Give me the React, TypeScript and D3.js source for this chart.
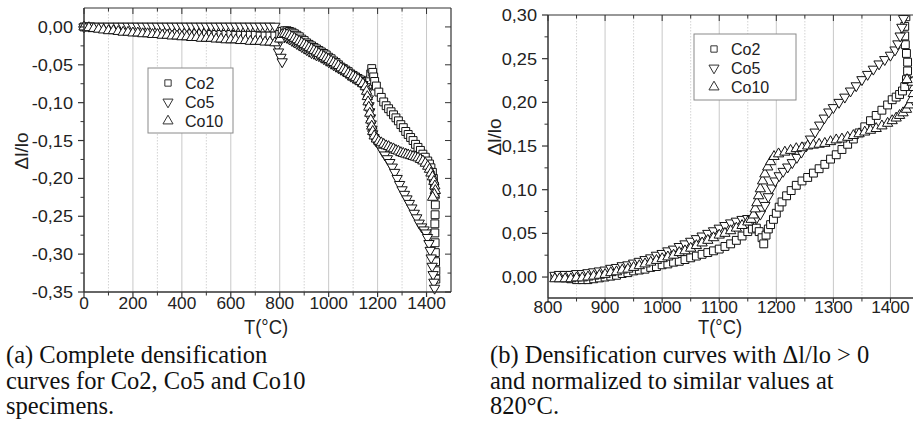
import React from 'react';
import * as d3 from 'd3';

// ---------------- DATA ----------------
// Left panel (a): complete densification curves, [T (°C), Δl/lo]
const co2A: [number, number][] = [
  [0, 0], [20, 0], [40, -0.001], [60, -0.001], [80, -0.002], [100, -0.002], [120, -0.003], [140, -0.003], [160, -0.004], [180, -0.004],
  [200, -0.005], [220, -0.005], [240, -0.006], [260, -0.006], [280, -0.006], [300, -0.007], [320, -0.007], [340, -0.007], [360, -0.008], [380, -0.008],
  [400, -0.008], [420, -0.008], [440, -0.009], [460, -0.009], [480, -0.009], [500, -0.009], [520, -0.01], [540, -0.01], [560, -0.01], [580, -0.01],
  [600, -0.01], [620, -0.011], [640, -0.011], [660, -0.011], [680, -0.011], [700, -0.011], [720, -0.012], [740, -0.012], [760, -0.012], [780, -0.012],
  [800, -0.01], [810, -0.006], [820, -0.005], [830, -0.005], [840, -0.006], [850, -0.007], [860, -0.009], [870, -0.011], [880, -0.013], [890, -0.016],
  [900, -0.018], [910, -0.021], [920, -0.023], [930, -0.025], [940, -0.027], [950, -0.029], [960, -0.031], [970, -0.033], [980, -0.035], [990, -0.037],
  [1000, -0.04], [1010, -0.042], [1020, -0.045], [1030, -0.047], [1040, -0.05], [1050, -0.053], [1060, -0.055], [1070, -0.057], [1080, -0.059], [1090, -0.062],
  [1100, -0.064], [1110, -0.066], [1120, -0.068], [1130, -0.07], [1140, -0.072], [1150, -0.074], [1160, -0.076], [1168, -0.07], [1172, -0.062], [1176, -0.055],
  [1180, -0.06], [1184, -0.066], [1188, -0.072], [1195, -0.078], [1205, -0.086], [1215, -0.093], [1225, -0.099], [1235, -0.104], [1245, -0.108], [1255, -0.112],
  [1265, -0.116], [1275, -0.12], [1285, -0.124], [1295, -0.129], [1305, -0.133], [1315, -0.138], [1325, -0.142], [1335, -0.146], [1345, -0.15], [1355, -0.155],
  [1365, -0.159], [1375, -0.163], [1385, -0.168], [1395, -0.172], [1405, -0.177], [1412, -0.181], [1418, -0.186], [1424, -0.192], [1428, -0.2], [1432, -0.21],
  [1435, -0.222], [1436, -0.235], [1435, -0.248], [1434, -0.26], [1434, -0.272], [1435, -0.285], [1436, -0.298], [1437, -0.31], [1438, -0.322], [1438, -0.333],
];

const co5A: [number, number][] = [
  [0, 0], [20, 0.001], [40, 0.001], [60, 0.001], [80, 0.001], [100, 0.001], [120, 0.001], [140, 0.001], [160, 0.001], [180, 0.001],
  [200, 0.001], [220, 0.001], [240, 0.001], [260, 0.001], [280, 0.001], [300, 0.001], [320, 0.001], [340, 0.001], [360, 0.001], [380, 0.001],
  [400, 0.001], [420, 0.001], [440, 0.001], [460, 0.001], [480, 0.001], [500, 0.001], [520, 0.001], [540, 0.001], [560, 0.001], [580, 0.001],
  [600, 0.001], [620, 0.001], [640, 0.001], [660, 0.001], [680, 0.001], [700, 0.001], [720, 0.001], [740, 0.001], [760, 0.001], [780, 0.001],
  [790, -0.025], [795, -0.033], [805, -0.04], [810, -0.046], [820, -0.013], [830, -0.014], [840, -0.016], [850, -0.018], [860, -0.02], [870, -0.022],
  [880, -0.024], [890, -0.026], [900, -0.028], [910, -0.03], [920, -0.032], [930, -0.034], [940, -0.035], [950, -0.037], [960, -0.038], [970, -0.04],
  [980, -0.042], [990, -0.044], [1000, -0.046], [1010, -0.048], [1020, -0.05], [1030, -0.052], [1040, -0.054], [1050, -0.056], [1060, -0.058], [1070, -0.06],
  [1080, -0.063], [1090, -0.065], [1100, -0.067], [1110, -0.069], [1120, -0.071], [1130, -0.073], [1140, -0.076], [1150, -0.079], [1158, -0.085], [1162, -0.095],
  [1165, -0.104], [1168, -0.112], [1171, -0.12], [1174, -0.128], [1177, -0.135], [1180, -0.141], [1185, -0.146], [1192, -0.15], [1200, -0.153], [1210, -0.158],
  [1220, -0.164], [1230, -0.169], [1240, -0.174], [1250, -0.179], [1260, -0.185], [1270, -0.192], [1280, -0.2], [1290, -0.208], [1300, -0.215], [1310, -0.221],
  [1320, -0.227], [1330, -0.233], [1340, -0.239], [1350, -0.246], [1360, -0.252], [1370, -0.259], [1380, -0.264], [1390, -0.268], [1398, -0.272], [1404, -0.278],
  [1410, -0.286], [1415, -0.295], [1419, -0.305], [1423, -0.316], [1427, -0.327], [1430, -0.337], [1433, -0.345],
];

const co10A: [number, number][] = [
  [0, 0], [20, -0.001], [40, -0.002], [60, -0.003], [80, -0.004], [100, -0.005], [120, -0.005], [140, -0.006], [160, -0.007], [180, -0.007],
  [200, -0.008], [220, -0.008], [240, -0.009], [260, -0.009], [280, -0.01], [300, -0.01], [320, -0.011], [340, -0.011], [360, -0.012], [380, -0.012],
  [400, -0.013], [420, -0.013], [440, -0.014], [460, -0.014], [480, -0.015], [500, -0.015], [520, -0.015], [540, -0.016], [560, -0.016], [580, -0.017],
  [600, -0.017], [620, -0.017], [640, -0.018], [660, -0.018], [680, -0.019], [700, -0.019], [720, -0.019], [740, -0.02], [760, -0.02], [780, -0.021],
  [800, -0.016], [810, -0.01], [820, -0.009], [830, -0.01], [840, -0.011], [850, -0.013], [860, -0.015], [870, -0.017], [880, -0.019], [890, -0.021],
  [900, -0.023], [910, -0.025], [920, -0.027], [930, -0.029], [940, -0.031], [950, -0.033], [960, -0.035], [970, -0.037], [980, -0.039], [990, -0.041],
  [1000, -0.043], [1010, -0.045], [1020, -0.047], [1030, -0.049], [1040, -0.051], [1050, -0.054], [1060, -0.056], [1070, -0.058], [1080, -0.061], [1090, -0.063],
  [1100, -0.065], [1110, -0.067], [1120, -0.069], [1130, -0.072], [1140, -0.075], [1150, -0.079], [1155, -0.085], [1158, -0.092], [1161, -0.099], [1164, -0.106],
  [1168, -0.114], [1172, -0.123], [1176, -0.131], [1180, -0.138], [1186, -0.144], [1195, -0.148], [1205, -0.151], [1215, -0.153], [1225, -0.155], [1235, -0.157],
  [1245, -0.158], [1255, -0.16], [1265, -0.161], [1275, -0.163], [1285, -0.164], [1295, -0.166], [1305, -0.167], [1315, -0.168], [1325, -0.169], [1335, -0.17],
  [1345, -0.171], [1355, -0.172], [1365, -0.173], [1375, -0.175], [1385, -0.177], [1395, -0.18], [1405, -0.184], [1412, -0.188], [1418, -0.193], [1424, -0.198],
  [1430, -0.204], [1434, -0.21], [1436, -0.216], [1432, -0.221], [1425, -0.225],
];

// Right panel (b): curves with Δl/lo > 0, normalized at 820 °C
const co2B: [number, number][] = [
  [812, 0], [820, 0], [830, -0.001], [840, -0.002], [850, -0.003], [860, -0.003], [870, -0.003], [880, -0.002], [890, -0.001], [900, 0],
  [910, 0.001], [920, 0.002], [930, 0.004], [940, 0.005], [950, 0.007], [960, 0.008], [970, 0.009], [980, 0.011], [990, 0.012], [1000, 0.014],
  [1010, 0.015], [1020, 0.017], [1030, 0.018], [1040, 0.02], [1050, 0.022], [1060, 0.024], [1070, 0.026], [1080, 0.028], [1090, 0.03], [1100, 0.032],
  [1110, 0.035], [1120, 0.038], [1130, 0.042], [1140, 0.047], [1150, 0.052], [1158, 0.055], [1165, 0.056], [1170, 0.052], [1175, 0.045], [1178, 0.038],
  [1182, 0.048], [1186, 0.055], [1190, 0.06], [1195, 0.066], [1200, 0.073], [1205, 0.08], [1210, 0.086], [1218, 0.093], [1226, 0.099], [1235, 0.105],
  [1245, 0.11], [1255, 0.114], [1265, 0.119], [1275, 0.124], [1285, 0.129], [1295, 0.135], [1305, 0.14], [1315, 0.146], [1325, 0.152], [1335, 0.158],
  [1345, 0.165], [1355, 0.172], [1365, 0.179], [1375, 0.185], [1385, 0.191], [1395, 0.197], [1403, 0.203], [1410, 0.206], [1416, 0.209], [1421, 0.213],
  [1425, 0.218], [1428, 0.226], [1430, 0.236], [1430, 0.246], [1428, 0.256], [1426, 0.266], [1425, 0.276], [1425, 0.287], [1427, 0.298], [1428, 0.31],
];

const co5B: [number, number][] = [
  [812, 0.002], [820, 0.003], [830, 0.003], [840, 0.003], [850, 0.004], [860, 0.004], [870, 0.005], [880, 0.006], [890, 0.007], [900, 0.008],
  [910, 0.01], [920, 0.011], [930, 0.013], [940, 0.014], [950, 0.016], [960, 0.018], [970, 0.02], [980, 0.022], [990, 0.025], [1000, 0.027],
  [1010, 0.03], [1020, 0.032], [1030, 0.035], [1040, 0.038], [1050, 0.041], [1060, 0.044], [1070, 0.047], [1080, 0.05], [1090, 0.053], [1100, 0.056],
  [1110, 0.059], [1120, 0.062], [1130, 0.064], [1140, 0.066], [1150, 0.067], [1158, 0.066], [1165, 0.067], [1172, 0.072], [1180, 0.082], [1186, 0.092],
  [1192, 0.102], [1198, 0.11], [1205, 0.116], [1212, 0.121], [1220, 0.126], [1228, 0.131], [1236, 0.137], [1244, 0.143], [1252, 0.15], [1260, 0.158],
  [1268, 0.166], [1276, 0.174], [1284, 0.182], [1292, 0.189], [1300, 0.194], [1310, 0.2], [1320, 0.206], [1330, 0.213], [1340, 0.219], [1350, 0.226],
  [1360, 0.232], [1370, 0.238], [1380, 0.244], [1390, 0.249], [1400, 0.254], [1408, 0.26], [1413, 0.267], [1417, 0.276], [1420, 0.286], [1423, 0.296],
  [1426, 0.306],
];

const co10B: [number, number][] = [
  [812, -0.002], [820, -0.002], [830, -0.002], [840, -0.002], [850, -0.001], [860, -0.001], [870, 0], [880, 0.001], [890, 0.002], [900, 0.003],
  [910, 0.005], [920, 0.006], [930, 0.008], [940, 0.009], [950, 0.011], [960, 0.013], [970, 0.015], [980, 0.017], [990, 0.019], [1000, 0.021],
  [1010, 0.023], [1020, 0.025], [1030, 0.028], [1040, 0.03], [1050, 0.033], [1060, 0.036], [1070, 0.039], [1080, 0.042], [1090, 0.045], [1100, 0.048],
  [1110, 0.05], [1120, 0.053], [1130, 0.056], [1140, 0.059], [1150, 0.063], [1156, 0.066], [1160, 0.071], [1163, 0.078], [1166, 0.085], [1169, 0.093],
  [1172, 0.101], [1176, 0.11], [1180, 0.118], [1185, 0.126], [1190, 0.132], [1196, 0.138], [1204, 0.141], [1215, 0.143], [1225, 0.145], [1235, 0.147],
  [1245, 0.148], [1255, 0.15], [1265, 0.151], [1275, 0.152], [1285, 0.153], [1295, 0.155], [1305, 0.157], [1315, 0.158], [1325, 0.16], [1335, 0.162],
  [1345, 0.164], [1355, 0.166], [1365, 0.168], [1375, 0.17], [1385, 0.173], [1395, 0.176], [1403, 0.179], [1410, 0.182], [1416, 0.185], [1422, 0.188],
  [1428, 0.192], [1433, 0.197], [1437, 0.203], [1440, 0.21], [1441, 0.217], [1438, 0.223], [1429, 0.226],
];

const seriesNames = ['Co2', 'Co5', 'Co10'];

const leftXMajor = [0, 200, 400, 600, 800, 1000, 1200, 1400];
const leftXMinor = [100, 300, 500, 700, 900, 1100, 1300];
const leftYMajor = [0, -0.05, -0.1, -0.15, -0.2, -0.25, -0.3, -0.35];
const leftYMinor = [-0.025, -0.075, -0.125, -0.175, -0.225, -0.275, -0.325];
const rightXMajor = [800, 900, 1000, 1100, 1200, 1300, 1400];
const rightXMinor = [850, 950, 1050, 1150, 1250, 1350];
const rightYMajor = [0, 0.05, 0.1, 0.15, 0.2, 0.25, 0.3];
const rightYMinor = [0.025, 0.075, 0.125, 0.175, 0.225, 0.275];

const captionA = ['(a) Complete densification', 'curves for Co2, Co5 and Co10', 'specimens.'];
const captionB = ['(b) Densification curves with \u0394l/lo > 0', 'and normalized to similar values at', '820\u00b0C.'];

// ---------------- DRAWING ----------------
const fmt = (v: number) => d3.format('.2f')(v).replace('.', ',').replace('\u2212', '-');

const SANS = "'Liberation Sans', Arial, Helvetica, sans-serif";
const SERIF = "'Liberation Serif', 'Times New Roman', serif";
const AX = '#333';

const sqPath = d3.symbol().type(d3.symbolSquare).size(62)()!;
const triPath = d3.symbol().type(d3.symbolTriangle).size(46)()!;
const sqLeg = d3.symbol().type(d3.symbolSquare).size(40)()!;
const triLeg = d3.symbol().type(d3.symbolTriangle).size(44)()!;

function Marker({ kind, x, y, legend }: { kind: number; x: number; y: number; legend?: boolean }) {
  const d = kind === 0 ? (legend ? sqLeg : sqPath) : legend ? triLeg : triPath;
  const rot = kind === 1 ? ' rotate(180)' : '';
  return (
    <path
      d={d}
      transform={`translate(${x},${y})${rot}`}
      fill="#fff"
      stroke={legend ? '#333' : '#111'}
      strokeWidth={1}
    />
  );
}

type PanelProps = {
  id: string;
  box: { x0: number; x1: number; y0: number; y1: number };
  xDomain: [number, number];
  yDomain: [number, number];
  xMajor: number[];
  xMinor: number[];
  yMajor: number[];
  yMinor: number[];
  data: [number, number][][];
  legend: { x: number; y: number; w: number; h: number };
  xLabelY: number;
  xTitleX: number;
  xTitleY: number;
  yTitleX: number;
  yTitleY: number;
  clip: boolean;
};

function Panel(p: PanelProps) {
  const { box } = p;
  const x = d3.scaleLinear().domain(p.xDomain).range([box.x0, box.x1]);
  const y = d3.scaleLinear().domain(p.yDomain).range([box.y1, box.y0]);
  const maj = 6;
  const min = 3.5;
  return (
    <g>
      <defs>
        <clipPath id={`clip-${p.id}`}>
          <rect x={box.x0 - 10} y={box.y0} width={box.x1 - box.x0 + 20} height={box.y1 - box.y0 + 10} />
        </clipPath>
      </defs>
      {/* grid */}
      {p.xMajor.filter((t) => x(t) > box.x0 + 1).map((t) => (
        <line key={`gM${t}`} x1={x(t)} x2={x(t)} y1={box.y0} y2={box.y1} stroke="#c8c8c8" strokeWidth={1} />
      ))}
      {p.xMinor.map((t) => (
        <line key={`gm${t}`} x1={x(t)} x2={x(t)} y1={box.y0} y2={box.y1} stroke="#c8c8c8" strokeWidth={0.8} strokeDasharray="1.5,1.5" />
      ))}
      {/* data */}
      <g clipPath={p.clip ? `url(#clip-${p.id})` : undefined}>
        {p.data.map((s, si) =>
          s.map((pt, i) => <Marker key={`${si}-${i}`} kind={si} x={x(pt[0])} y={y(pt[1])} />)
        )}
      </g>
      {/* frame */}
      <line x1={box.x0} x2={box.x0} y1={box.y0} y2={box.y1} stroke={AX} strokeWidth={1.5} />
      <line x1={box.x0} x2={box.x1} y1={box.y1} y2={box.y1} stroke={AX} strokeWidth={1.5} />
      <line x1={box.x0} x2={box.x1} y1={box.y0} y2={box.y0} stroke={AX} strokeWidth={1.2} />
      <line x1={box.x1} x2={box.x1} y1={box.y0} y2={box.y1} stroke={AX} strokeWidth={1.2} />
      {/* x ticks: bottom outward, top inward */}
      {p.xMajor.map((t) => (
        <g key={`xt${t}`}>
          <line x1={x(t)} x2={x(t)} y1={box.y1} y2={box.y1 + 5} stroke={AX} strokeWidth={1.2} />
          <line x1={x(t)} x2={x(t)} y1={box.y0} y2={box.y0 + maj} stroke={AX} strokeWidth={1} />
          <text x={x(t)} y={p.xLabelY} textAnchor="middle" fontFamily={SANS} fontSize={16} fill="#222"
            transform={`translate(${x(t)},0) scale(1.08,1) translate(${-x(t)},0)`}>{t}</text>
        </g>
      ))}
      {p.xMinor.map((t) => (
        <g key={`xm${t}`}>
          <line x1={x(t)} x2={x(t)} y1={box.y1} y2={box.y1 + min} stroke={AX} strokeWidth={1} />
          <line x1={x(t)} x2={x(t)} y1={box.y0} y2={box.y0 + min} stroke={AX} strokeWidth={1} />
        </g>
      ))}
      {/* y ticks: left outward, right inward */}
      {p.yMajor.map((t) => (
        <g key={`yt${t}`}>
          <line x1={box.x0 - maj} x2={box.x0} y1={y(t)} y2={y(t)} stroke={AX} strokeWidth={1.2} />
          <line x1={box.x1 - maj} x2={box.x1} y1={y(t)} y2={y(t)} stroke={AX} strokeWidth={1} />
          <text x={box.x0 - 11} y={y(t) + 6} textAnchor="end" fontFamily={SANS} fontSize={16.5} fill="#222"
            transform={`translate(${box.x0 - 11},0) scale(1.1,1) translate(${-(box.x0 - 11)},0)`}>{fmt(t)}</text>
        </g>
      ))}
      {p.yMinor.map((t) => (
        <g key={`ym${t}`}>
          <line x1={box.x0 - min} x2={box.x0} y1={y(t)} y2={y(t)} stroke={AX} strokeWidth={1} />
          <line x1={box.x1 - min} x2={box.x1} y1={y(t)} y2={y(t)} stroke={AX} strokeWidth={1} />
        </g>
      ))}
      {/* titles */}
      <text transform={`translate(${p.xTitleX},${p.xTitleY}) scale(0.92,1)`} textAnchor="middle" fontFamily={SANS} fontSize={20} fill="#222">T(°C)</text>
      <text transform={`translate(${p.yTitleX},${p.yTitleY}) rotate(-90)`} textAnchor="middle" fontFamily={SANS} fontSize={19} fill="#222">Δl/lo</text>
      {/* legend */}
      <rect x={p.legend.x} y={p.legend.y} width={p.legend.w} height={p.legend.h} fill="#fff" stroke="#8a8a8a" strokeWidth={1} />
      {seriesNames.map((n, i) => {
        const ly = p.legend.y + 15 + i * 19;
        return (
          <g key={n}>
            <Marker kind={i} x={p.legend.x + 20} y={ly} legend />
            <text x={p.legend.x + 37} y={ly + 6} fontFamily={SANS} fontSize={16} fill="#222">{n}</text>
          </g>
        );
      })}
    </g>
  );
}

function Caption({ lines, x }: { lines: string[]; x: number }) {
  return (
    <g>
      {lines.map((l, i) => (
        <text key={i} x={x} y={363 + i * 25.5} fontFamily={SERIF} fontSize={24.5} fill="#111">{l}</text>
      ))}
    </g>
  );
}

export default function App() {
  return (
    <svg width={913} height={447} style={{ position: 'absolute', left: 0, top: 0, background: '#fff' }}>
      <rect width={913} height={447} fill="#fff" />
      <Panel
        id="a"
        box={{ x0: 84, x1: 451, y0: 8, y1: 292 }}
        xDomain={[0, 1500]}
        yDomain={[-0.35, 0.025]}
        xMajor={leftXMajor}
        xMinor={leftXMinor}
        yMajor={leftYMajor}
        yMinor={leftYMinor}
        data={[co2A, co5A, co10A]}
        legend={{ x: 148, y: 68, w: 85, h: 65 }}
        xLabelY={309}
        xTitleX={266}
        xTitleY={334}
        yTitleX={28}
        yTitleY={151}
        clip={false}
      />
      <Panel
        id="b"
        box={{ x0: 548, x1: 919, y0: 15, y1: 298 }}
        xDomain={[800, 1450]}
        yDomain={[-0.024, 0.3]}
        xMajor={rightXMajor}
        xMinor={rightXMinor}
        yMajor={rightYMajor}
        yMinor={rightYMinor}
        data={[co2B, co5B, co10B]}
        legend={{ x: 694, y: 34, w: 102, h: 66 }}
        xLabelY={313}
        xTitleX={720}
        xTitleY={334}
        yTitleX={501}
        yTitleY={137}
        clip={true}
      />
      <Caption lines={captionA} x={6} />
      <Caption lines={captionB} x={490} />
    </svg>
  );
}
